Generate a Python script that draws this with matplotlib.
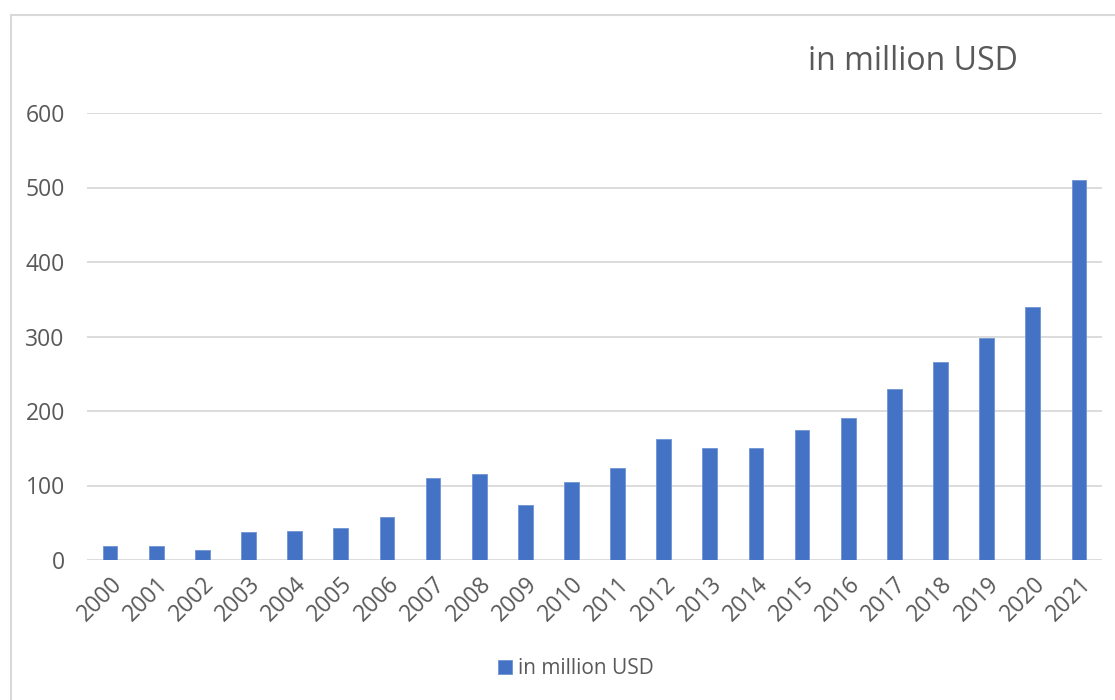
import numpy as np
import matplotlib
matplotlib.use("Agg")
import matplotlib.pyplot as plt
from matplotlib.patches import Rectangle

plt.rcParams['font.family'] = ['Open Sans', 'DejaVu Sans']

#%% data
years = [str(y) for y in range(2000, 2022)]
values = [19, 19, 14, 38, 39, 43, 58, 110, 116, 74, 105, 124,
          163, 150, 150, 175, 191, 229, 266, 298, 340, 510]
series_name = "in million USD"

bar_color = "#4472C4"
text_color = "#595959"
grid_color = "#D9D9D9"

#%% plot
fig = plt.figure(figsize=(11.15, 7), dpi=100)
ax = fig.add_axes([87/1115, 1 - 560/700, (1102 - 87)/1115, (560 - 113)/700])

x = np.arange(len(years))
ax.bar(x, values, width=0.32, color=bar_color, edgecolor="#6F93D3",
       linewidth=0.6, label=series_name, zorder=3)

ax.set_xlim(-0.5, len(years) - 0.5)
ax.set_ylim(0, 600)
ax.set_yticks(range(0, 601, 100))
ax.yaxis.grid(True, color=grid_color, lw=1.3, zorder=0)
ax.set_xticks(x)
ax.set_xticklabels(years, rotation=45, ha='right', rotation_mode='anchor')
ax.tick_params(axis='both', length=0, labelsize=16.5, colors=text_color)
ax.tick_params(axis='x', pad=9)
ax.tick_params(axis='y', pad=16)
for s in ax.spines.values():
    s.set_visible(False)

# title at upper right
fig.text(913/1115, 1 - 62/700, series_name, fontsize=23, color=text_color,
         ha='center', va='center')

# legend at the bottom
leg = fig.legend(loc='center', bbox_to_anchor=(576/1115, 1 - 669/700),
                 frameon=False, fontsize=15, handlelength=0.65,
                 handleheight=0.65, handletextpad=0.3)
for t in leg.get_texts():
    t.set_color(text_color)

# chart border (only top/left visible in the crop)
fig.patches.append(Rectangle((10.5/1115, -0.2), 1.2, 1.2 - 14.5/700,
                             transform=fig.transFigure, fill=False,
                             edgecolor=grid_color, lw=1.5))

fig.savefig("out.png", dpi=100)
